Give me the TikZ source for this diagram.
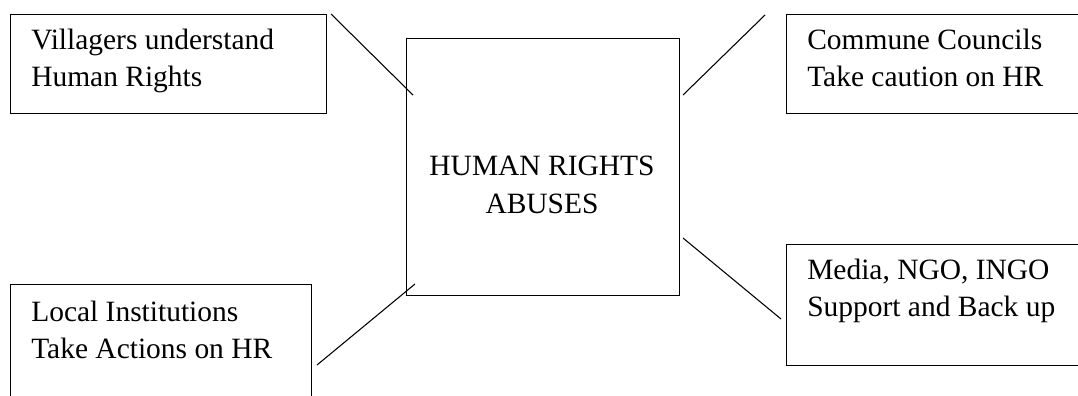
\documentclass[tikz,border=0pt]{standalone}
\usepackage{fontspec}
\setmainfont{Liberation Serif}
\begin{document}
\begin{tikzpicture}[x=0.75pt,y=-0.75pt,
  box/.style={draw=black,line width=0.9pt,rectangle,inner sep=0pt,anchor=north west},
  txt/.style={font={\fontsize{22.1}{27.75}\selectfont},inner sep=0pt,align=left,anchor=base west},
  ctxt/.style={font={\fontsize{22.1}{28.5}\selectfont},inner sep=0pt,align=center,anchor=base},
  link/.style={draw=black,line width=0.8pt}]
\clip (0,0) rectangle (1078,396);
\useasboundingbox (0,0) rectangle (1078,396);
% boxes
\node[box,minimum width=237pt,minimum height=74.25pt] (vb) at (10,14) {};
\node[box,minimum width=240pt,minimum height=74.25pt] (cb) at (786,14) {};
\node[box,minimum width=225.75pt,minimum height=90pt] (lb) at (10,284) {};
\node[box,minimum width=240pt,minimum height=90.75pt] (mb) at (786,244) {};
\node[box,minimum width=204.75pt,minimum height=192.75pt] (hb) at (406,38) {};
% texts (anchored at the baseline of the last line)
\node[txt] (vt) at (31,86) {Villagers understand\\Human Rights};
\node[txt] (ct) at (807,86) {Commune Councils\\Take caution on HR};
\node[txt] (lt) at (31,358) {Local Institutions\\Take Actions on HR};
\node[txt] (mt) at (807,316) {Media, NGO, INGO\\Support and Back up};
\node[ctxt] (ht) at (542,213) {HUMAN RIGHTS\\ABUSES};
% connector ends
\coordinate (v1) at (331,14);  \coordinate (v2) at (413,95);
\coordinate (c1) at (683,95);  \coordinate (c2) at (765,15);
\coordinate (l1) at (317,365); \coordinate (l2) at (415,284);
\coordinate (m1) at (683,238); \coordinate (m2) at (781,319);
\draw[link] (v1) -- (v2);
\draw[link] (c1) -- (c2);
\draw[link] (l1) -- (l2);
\draw[link] (m1) -- (m2);
\end{tikzpicture}
\end{document}
